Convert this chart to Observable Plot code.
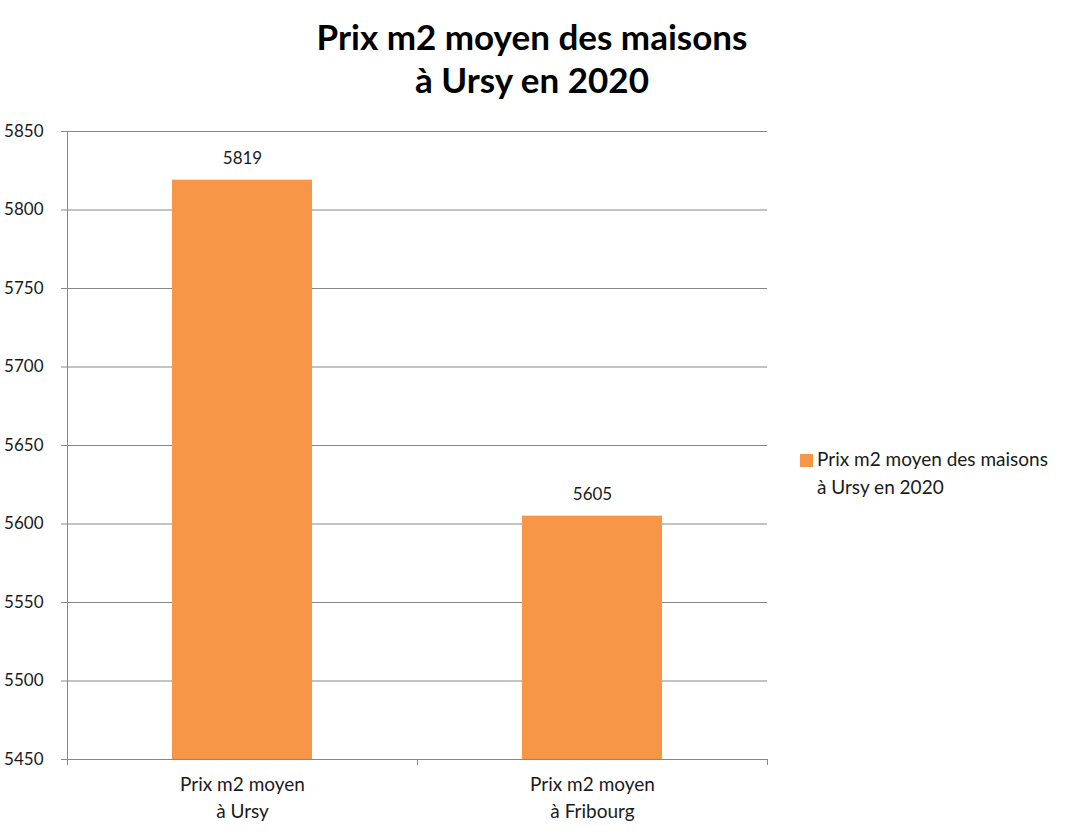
<!DOCTYPE html>
<html>
<head>
<meta charset="utf-8">
<script src="https://cdn.jsdelivr.net/npm/d3@7"></script>
<script src="https://cdn.jsdelivr.net/npm/@observablehq/plot@0.6"></script>
<style>
  body { margin: 0; background: #fff; font-family: Lato, "Open Sans", sans-serif; }
  #wrap { position: relative; width: 1073px; height: 835px; overflow: hidden; }
  #title { position: absolute; left: 0; width: 1064px; top: 15px; text-align: center;
    font-weight: bold; font-size: 35px; line-height: 43px; color: #000; }
  #legend { position: absolute; left: 800px; top: 445px; font-size: 19px; line-height: 28px; color: #1a1a1a; }
  #legend .sw { display: inline-block; width: 13px; height: 13px; background: #F79646; margin-right: 4px; vertical-align: -1px; }
  #legend .l2 { padding-left: 17px; }
  #chart { position: absolute; left: 0; top: 0; }
</style>
</head>
<body>
<div id="wrap">
  <div id="chart"></div>
  <div id="title">Prix m2 moyen des maisons<br>à Ursy en 2020</div>
  <div id="legend"><div><span class="sw"></span>Prix m2 moyen des maisons</div><div class="l2">à Ursy en 2020</div></div>
</div>
<script>
const categories = ["Prix m2 moyen\nà Ursy", "Prix m2 moyen\nà Fribourg"];
const values = [5819, 5605];
const yTicks = [5450, 5500, 5550, 5600, 5650, 5700, 5750, 5800, 5850];
const seriesName = "Prix m2 moyen des maisons à Ursy en 2020";

const data = categories.map((c, i) => ({category: c, value: values[i]}));

const W = 1073, H = 835;
const mL = 67, mR = 306, mT = 131, mB = 76;
const step = (W - mL - mR) / categories.length;
const grey = "#878787";
const baseY = yTicks[0];

const plot = Plot.plot({
  width: W,
  height: H,
  marginLeft: mL,
  marginRight: mR,
  marginTop: mT,
  marginBottom: mB,
  style: {fontFamily: "Lato, 'Open Sans', sans-serif", fontSize: "17px", color: "#1a1a1a", background: "#fff"},
  x: {domain: categories, paddingInner: 0.6, paddingOuter: 0.3},
  y: {domain: [yTicks[0], yTicks[yTicks.length - 1]]},
  marks: [
    Plot.gridY(yTicks, {stroke: grey, strokeOpacity: 1, strokeWidth: 1}),
    Plot.rectY(data, {x: "category", y1: baseY, y2: "value", fill: "#F79646"}),
    Plot.axisY(yTicks, {tickSize: 6, tickPadding: 18, tickFormat: d => String(d), stroke: grey, strokeOpacity: 1, fill: "#1a1a1a", fontSize: 17, label: null}),
    Plot.frame({anchor: "left", stroke: grey, strokeOpacity: 1}),
    Plot.frame({anchor: "bottom", stroke: grey, strokeOpacity: 1}),
    Plot.ruleX([categories[0], categories[1]], {x: d => d, y1: baseY, y2: baseY, dx: -step / 2, insetBottom: -6, stroke: grey}),
    Plot.ruleX([categories[1]], {x: d => d, y1: baseY, y2: baseY, dx: step / 2, insetBottom: -6, stroke: grey}),
    Plot.axisX({tickSize: 0, tickPadding: 12, fontSize: 19, lineHeight: 1.42, fill: "#1a1a1a", label: null}),
    Plot.text(data, {x: "category", y: "value", text: d => String(d.value), dy: -22, fontSize: 17, fill: "#1a1a1a"})
  ]
});
document.getElementById("chart").appendChild(plot);
</script>
</body>
</html>
